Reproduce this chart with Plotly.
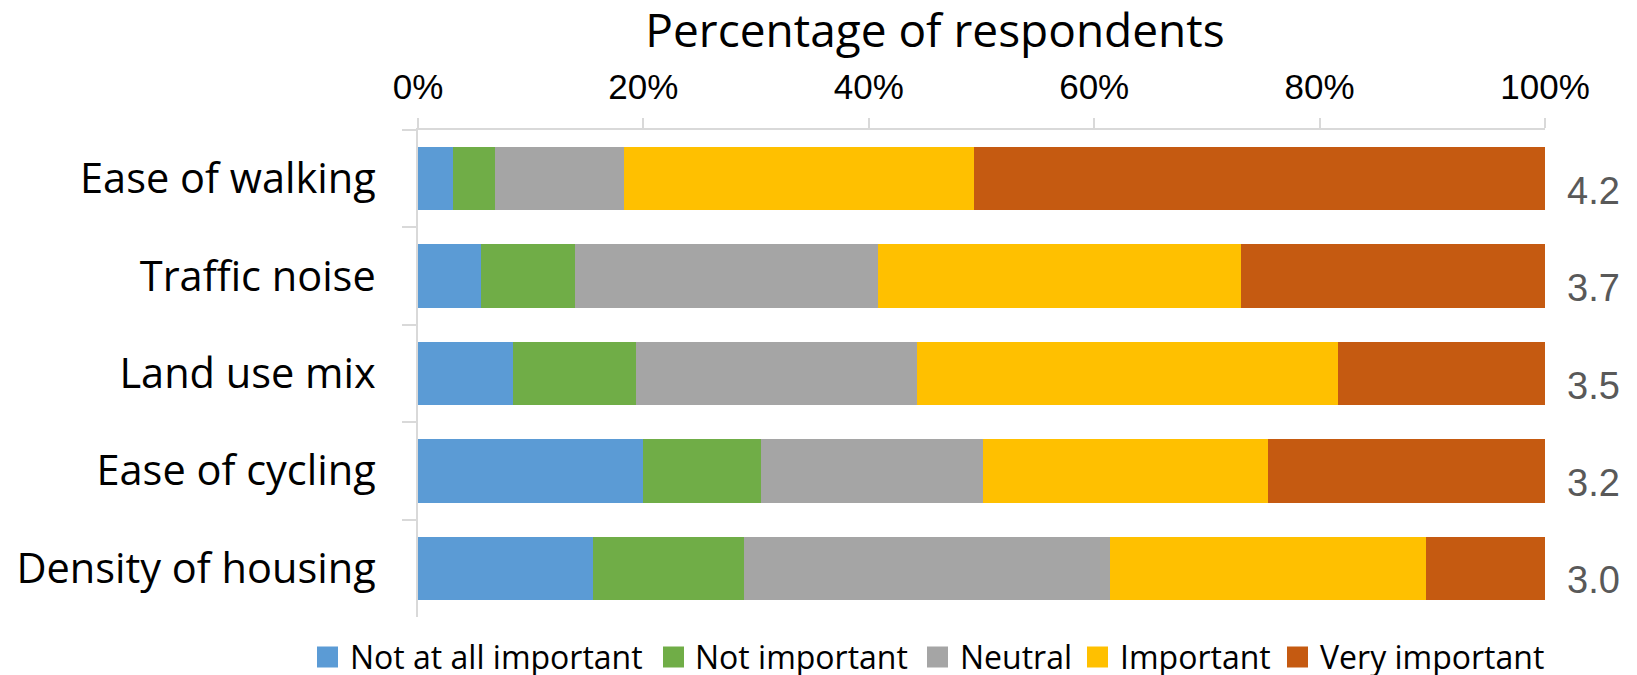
import plotly.graph_objects as go

# Survey categories (top to bottom) and response levels
categories = ["Ease of walking", "Traffic noise", "Land use mix", "Ease of cycling", "Density of housing"]
levels = ["Not at all important", "Not important", "Neutral", "Important", "Very important"]

# Share of respondents (%) per response level, one value per category
not_at_all_important = [3.1, 5.6, 8.4, 20.0, 15.5]
not_important = [3.75, 8.3, 10.9, 10.4, 13.4]
neutral = [11.4, 26.9, 25.0, 19.7, 32.5]
important = [31.1, 32.2, 37.3, 25.3, 28.0]
very_important = [50.65, 27.0, 18.4, 24.6, 10.6]

# Mean importance score shown at the end of each bar
mean_scores = ["4.2", "3.7", "3.5", "3.2", "3.0"]

x_ticks = [0, 20, 40, 60, 80, 100]
x_tick_labels = ["0%", "20%", "40%", "60%", "80%", "100%"]

colors = ["#5B9BD5", "#70AD47", "#A5A5A5", "#FFC000", "#C55A11"]
series = [not_at_all_important, not_important, neutral, important, very_important]

W, H = 1637, 675
M_L, M_R, M_T, M_B = 418, 92, 130, 58
PLOT_W = W - M_L - M_R
PLOT_H = H - M_T - M_B

TEXT_FONT = "Open Sans, Noto Sans, DejaVu Sans, sans-serif"
NUM_FONT = "Liberation Sans, Arial, sans-serif"
GRID_GRAY = "#D9D9D9"

fig = go.Figure()
for name, vals, col in zip(levels, series, colors):
    fig.add_trace(go.Bar(
        y=categories, x=vals, name=name, orientation="h",
        marker=dict(color=col, line=dict(width=0)),
        showlegend=False,
        hovertemplate="%{y}<br>" + name + ": %{x:.1f}%<extra></extra>",
    ))

# Mean score labels beyond the right end of each bar
for cat, score in zip(categories, mean_scores):
    fig.add_annotation(
        x=100, y=cat, xref="x", yref="y", text=score, showarrow=False,
        xanchor="left", yanchor="middle", xshift=20, yshift=-12,
        font=dict(family=NUM_FONT, size=38, color="#595959"),
    )


def px_to_paper_x(px):
    return (px - M_L) / PLOT_W


def px_to_paper_y(py):
    return (H - M_B - py) / PLOT_H


# Legend row below the plot: coloured square followed by its label
legend_square_left = [317, 663, 927, 1087, 1287]
legend_text_left = [348, 693, 958, 1118, 1318]
sq = 21
legend_center_y = 657
for name, col, sx, tx in zip(levels, colors, legend_square_left, legend_text_left):
    fig.add_shape(
        type="rect", xref="paper", yref="paper",
        x0=px_to_paper_x(sx), x1=px_to_paper_x(sx + sq),
        y0=px_to_paper_y(legend_center_y + sq / 2), y1=px_to_paper_y(legend_center_y - sq / 2),
        fillcolor=col, line=dict(width=0),
    )
    fig.add_annotation(
        x=px_to_paper_x(tx), y=px_to_paper_y(legend_center_y - 1), xref="paper", yref="paper",
        text=name, showarrow=False, xanchor="left", yanchor="middle",
        font=dict(family=TEXT_FONT, size=32, color="#000000"),
    )

fig.update_layout(
    width=W, height=H,
    margin=dict(l=M_L, r=M_R, t=M_T, b=M_B, pad=0, autoexpand=False),
    paper_bgcolor="white", plot_bgcolor="white",
    barmode="stack", bargap=0.35,
    showlegend=False,
    title=dict(
        text="Percentage of respondents",
        x=935 / W, xref="container", xanchor="center",
        y=1 - 31 / H, yref="container", yanchor="middle",
        font=dict(family=TEXT_FONT, size=46, color="#000000"),
    ),
    xaxis=dict(
        side="top", range=[0, 100], tickvals=x_ticks, ticktext=x_tick_labels,
        showgrid=False, zeroline=False,
        showline=True, linecolor=GRID_GRAY, linewidth=2,
        ticks="outside", ticklen=10, tickwidth=2, tickcolor=GRID_GRAY,
        tickfont=dict(family=NUM_FONT, size=35, color="#000000"),
        ticklabelstandoff=5,
    ),
    yaxis=dict(
        type="category", categoryorder="array", categoryarray=categories,
        autorange="reversed",
        showgrid=False, zeroline=False,
        showline=True, linecolor=GRID_GRAY, linewidth=2,
        ticks="outside", tickson="boundaries", ticklen=14, tickwidth=2, tickcolor=GRID_GRAY,
        tickfont=dict(family=TEXT_FONT, size=41.5, color="#000000"),
        ticklabelstandoff=32,
    ),
)

fig.write_html("out.html")
